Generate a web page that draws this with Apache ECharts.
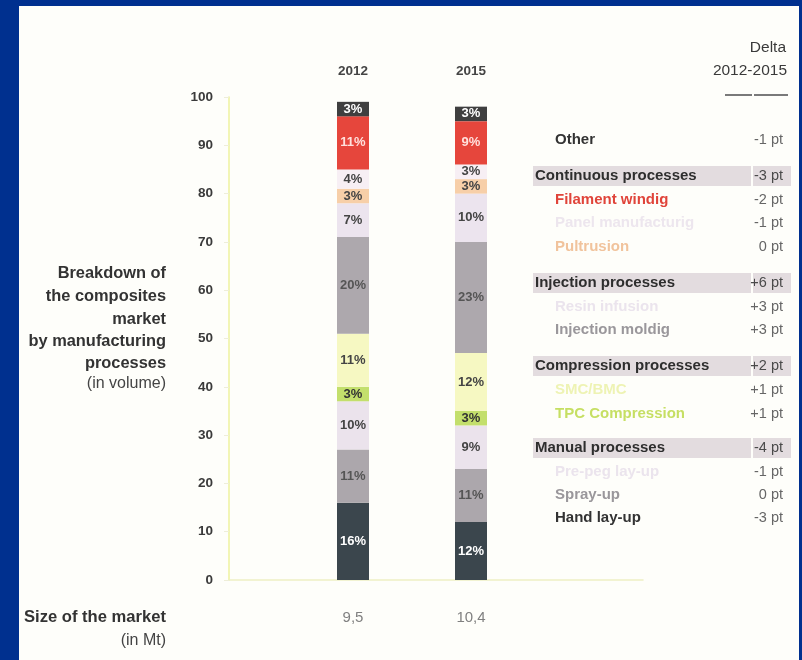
<!DOCTYPE html>
<html>
<head>
<meta charset="utf-8">
<script src="https://cdn.jsdelivr.net/npm/echarts@6/dist/echarts.min.js"></script>
<style>
  html, body { margin: 0; padding: 0; }
  body { width: 802px; height: 660px; background: #00308f; position: relative; overflow: hidden; }
  #paper { position: absolute; left: 19px; top: 6px; width: 780px; height: 654px; background: #fefefa; }
  #chart { position: absolute; left: 0; top: 0; width: 802px; height: 660px; }
</style>
</head>
<body>
<div id="paper"></div>
<div id="chart"></div>
<script>
// ---- data ----
const years = ['2012', '2015'];
const marketSize = ['9,5', '10,4'];
const yTicks = [0, 10, 20, 30, 40, 50, 60, 70, 80, 90, 100];

// stacked from bottom to top
const handLayUp = [16, 12];
const sprayUp = [11, 11];
const prePreg = [10, 9];
const tpcCompression = [3, 3];
const smcBmc = [11, 12];
const injectionMolding = [20, 23];
const resinInfusion = [7, 10];
const pultrusion = [3, 3];
const panelManufacturing = [4, 3];
const filamentWinding = [11, 9];
const other = [3, 3];

const tableLabels = ['Other', 'Continuous processes', 'Filament windig', 'Panel manufacturig', 'Pultrusion',
  'Injection processes', 'Resin infusion', 'Injection moldig',
  'Compression processes', 'SMC/BMC', 'TPC Compression',
  'Manual processes', 'Pre-peg lay-up', 'Spray-up', 'Hand lay-up'];
const tableDeltas = ['-1 pt', '-3 pt', '-2 pt', '-1 pt', '0 pt',
  '+6 pt', '+3 pt', '+3 pt',
  '+2 pt', '+1 pt', '+1 pt',
  '-4 pt', '-1 pt', '0 pt', '-3 pt'];

// ---- styling / layout ----
const FONT = "'Liberation Sans', Arial, Helvetica, sans-serif";
const seriesDefs = [
  { name: 'Hand lay-up', data: handLayUp, color: '#3b464d', text: '#ffffff' },
  { name: 'Spray-up', data: sprayUp, color: '#aca7ac', text: '#555555' },
  { name: 'Pre-peg lay-up', data: prePreg, color: '#ebe3ec', text: '#444444' },
  { name: 'TPC Compression', data: tpcCompression, color: '#c3df6c', text: '#333333' },
  { name: 'SMC/BMC', data: smcBmc, color: '#f6f8c2', text: '#444444' },
  { name: 'Injection moldig', data: injectionMolding, color: '#ada8ad', text: '#555555' },
  { name: 'Resin infusion', data: resinInfusion, color: '#ece4ee', text: '#444444' },
  { name: 'Pultrusion', data: pultrusion, color: '#f7cfa8', text: '#444444' },
  { name: 'Panel manufacturig', data: panelManufacturing, color: '#f7eff4', text: '#444444' },
  { name: 'Filament windig', data: filamentWinding, color: '#e6463c', text: '#ffe0dc' },
  { name: 'Other', data: other, color: '#3f3f3f', text: '#ffffff' }
];

// row layout for the delta table (positions only)
const rowY = [140, 176, 200, 223, 247, 283, 307, 330, 366, 390, 414, 448, 472, 495, 518];
const rowKind = ['item', 'head', 'item', 'item', 'item', 'head', 'item', 'item', 'head', 'item', 'item', 'head', 'item', 'item', 'item'];
const rowColor = ['#333333', '#2e2e2e', '#e0443a', '#ede6ee', '#f1c39c', '#2e2e2e', '#ebe4ed', '#9a979b',
  '#2e2e2e', '#eef3b4', '#c6df63', '#2e2e2e', '#ebe4ed', '#9a979b', '#333333'];

const graphics = [];
// left title
const leftLines = ['Breakdown of', 'the composites', 'market', 'by manufacturing', 'processes'];
const leftY = [273, 296, 319, 341, 363];
leftLines.forEach((t, i) => graphics.push({
  type: 'text', x: 166, y: leftY[i],
  style: { text: t, font: 'bold 16.4px ' + FONT, fill: '#333333', textAlign: 'right', textVerticalAlign: 'middle' }
}));
graphics.push({ type: 'text', x: 166, y: 384, style: { text: '(in volume)', font: '16px ' + FONT, fill: '#444444', textAlign: 'right', textVerticalAlign: 'middle' } });
graphics.push({ type: 'text', x: 166, y: 617, style: { text: 'Size of the market', font: 'bold 16.6px ' + FONT, fill: '#333333', textAlign: 'right', textVerticalAlign: 'middle' } });
graphics.push({ type: 'text', x: 166, y: 641, style: { text: '(in Mt)', font: '16px ' + FONT, fill: '#444444', textAlign: 'right', textVerticalAlign: 'middle' } });

// delta header
graphics.push({ type: 'text', x: 786, y: 48, style: { text: 'Delta', font: '15.5px ' + FONT, fill: '#3a3a3a', textAlign: 'right', textVerticalAlign: 'middle' } });
graphics.push({ type: 'text', x: 787, y: 71, style: { text: '2012-2015', font: '15.5px ' + FONT, fill: '#3a3a3a', textAlign: 'right', textVerticalAlign: 'middle' } });
graphics.push({ type: 'rect', shape: { x: 725, y: 94, width: 27, height: 2 }, style: { fill: '#7a7a7a' } });
graphics.push({ type: 'rect', shape: { x: 754, y: 94, width: 34, height: 2 }, style: { fill: '#7a7a7a' } });

// table rows
tableLabels.forEach((label, i) => {
  const y = rowY[i];
  if (rowKind[i] === 'head') {
    graphics.push({ type: 'rect', z: -1, shape: { x: 533, y: y - 10, width: 218, height: 20 }, style: { fill: '#e3dcdf' } });
    graphics.push({ type: 'rect', z: -1, shape: { x: 753, y: y - 10, width: 38, height: 20 }, style: { fill: '#e3dcdf' } });
  }
  graphics.push({
    type: 'text', x: rowKind[i] === 'head' ? 535 : 555, y: y,
    style: { text: label, font: 'bold 15px ' + FONT, fill: rowColor[i], textVerticalAlign: 'middle' }
  });
  graphics.push({
    type: 'text', x: 783, y: y,
    style: { text: tableDeltas[i], font: '14.5px ' + FONT, fill: rowKind[i] === 'head' ? '#4a4a4a' : '#666666', textAlign: 'right', textVerticalAlign: 'middle' }
  });
});

const chart = echarts.init(document.getElementById('chart'), null, { renderer: 'canvas' });
chart.setOption({
  backgroundColor: 'transparent',
  animation: false,
  textStyle: { fontFamily: FONT },
  grid: [
    { left: 229, right: 159, top: 97, bottom: 80 },
    { left: 294, right: 272, top: 97, bottom: 80 }
  ],
  xAxis: [
    { gridIndex: 0, type: 'value', min: 0, max: 1, axisLine: { show: true, lineStyle: { color: '#eef0c4', width: 1.5 } }, axisTick: { show: false }, axisLabel: { show: false }, splitLine: { show: false } },
    { gridIndex: 1, type: 'category', data: years, position: 'top', axisLine: { show: false }, axisTick: { show: false },
      axisLabel: { margin: 19, fontSize: 13.5, fontWeight: 'bold', color: '#444444' } },
    { gridIndex: 1, type: 'category', data: marketSize, position: 'bottom', axisLine: { show: false }, axisTick: { show: false },
      axisLabel: { margin: 30, fontSize: 15, color: '#808080' } }
  ],
  yAxis: [
    { gridIndex: 0, type: 'value', min: yTicks[0], max: yTicks[yTicks.length - 1], interval: yTicks[1] - yTicks[0],
      axisLine: { show: true, lineStyle: { color: '#eef29e', width: 1.5 } },
      axisTick: { show: true, length: 5, lineStyle: { color: '#eeeed8' } },
      axisLabel: { margin: 16, fontSize: 13.5, fontWeight: 'bold', color: '#3a3a3a' },
      splitLine: { show: false } },
    { gridIndex: 1, type: 'value', min: 0, max: 100, show: false, splitLine: { show: false } }
  ],
  graphic: graphics,
  series: seriesDefs.map(s => ({
    name: s.name, type: 'bar', stack: 'total', xAxisIndex: 1, yAxisIndex: 1,
    barWidth: 32, data: s.data,
    itemStyle: { color: s.color },
    label: { show: true, position: 'inside', formatter: '{c}%', fontSize: 13, fontWeight: 'bold', color: s.text }
  }))
});
</script>
</body>
</html>
